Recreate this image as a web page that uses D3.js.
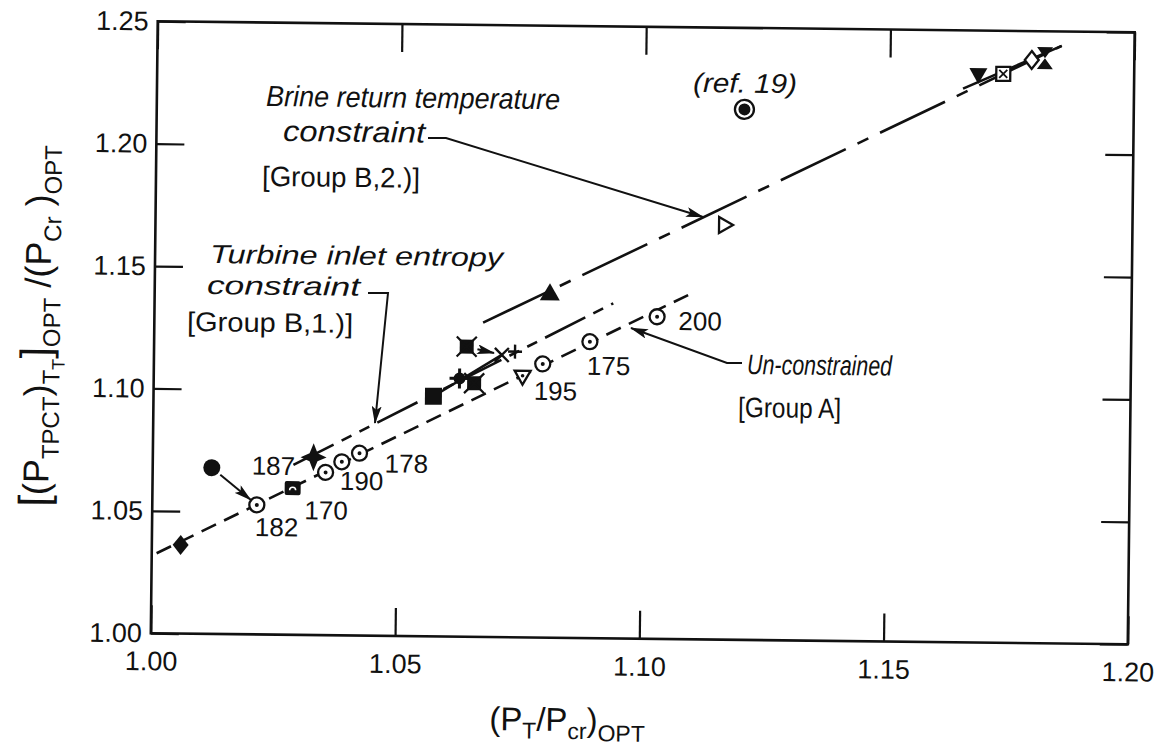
<!DOCTYPE html>
<html><head><meta charset="utf-8">
<script src="https://cdn.jsdelivr.net/npm/d3@7"></script>
<style>
body{margin:0;background:#fff}
svg{display:block}
text{font-family:"Liberation Sans",Arial,sans-serif;fill:#111}
</style>
</head><body>
<svg id="c" width="1163" height="754"></svg>
<script>
// ---------- data ----------
const xTicks = [1.00, 1.05, 1.10, 1.15, 1.20];
const yTicks = [1.00, 1.05, 1.10, 1.15, 1.20, 1.25];
const xTickLabels = ["1.00", "1.05", "1.10", "1.15", "1.20"];
const yTickLabels = ["1.00", "1.05", "1.10", "1.15", "1.20", "1.25"];

const pointX = [1.0059, 1.0121, 1.0214, 1.0287, 1.0354, 1.0387, 1.0423, 1.0329,
                1.0573, 1.0626, 1.0656, 1.0640, 1.0712, 1.0739, 1.0755, 1.0796,
                1.0892, 1.1029, 1.0809, 1.1166, 1.1203, 1.1681, 1.1732, 1.1790, 1.1817];
const pointY = [1.0362, 1.0679, 1.0529, 1.0599, 1.0665, 1.0709, 1.0745, 1.0726,
                1.0981, 1.1055, 1.1036, 1.1185, 1.1153, 1.1167, 1.1065, 1.1118,
                1.1211, 1.1316, 1.1407, 1.1694, 1.2167, 1.2318, 1.2324, 1.2382, 1.2390];
const pointMarker = ["diamondFilled", "circleFilled", "circleDot", "squareFilledArc", "circleDot", "circleDot", "circleDot", "starDiamond",
                     "squareFilled", "starFilled", "xBoxFilled", "xBoxFilled", "xMark", "plus", "triDownOpenDot", "circleDot",
                     "circleDot", "circleDot", "triFilled", "triRightOpen", "doubleCircle", "triDownFilled", "xBoxOpen", "diamondOpen", "hourglass"];

// numeric labels attached to points (index into point arrays)
const labelText  = ["187", "182", "170", "190", "178", "195", "175", "200"];
const labelPoint = [7, 2, 4, 5, 6, 15, 16, 17];

// correlation lines
const lineGroupA   = [[1.001, 1.0327], [1.1092, 1.1406]];   // un-constrained
const lineGroupB1  = [[1.0288, 1.0694], [1.0939, 1.1369]];  // turbine inlet entropy
const lineGroupB2  = [[1.0673, 1.1284], [1.1851, 1.2441]];  // brine return temperature
const solidB1      = [[1.0573, 1.0981], [1.0712, 1.1153]];
const solidB2      = [[1.1650, 1.2262], [1.1851, 1.2441]];
// point-to-point arrows (from index, to index)
const pointArrows  = [[1, 2], [11, 12]];

// ---------- layout ----------
const frame = {l: 154.25, r: 1131.25, t: 26.75, b: 638.75};
const cx = 642.75, cy = 332.75, tilt = 0.645;
const rad = tilt * Math.PI / 180, cs = Math.cos(rad), sn = Math.sin(rad);
function U(px, py) { const dx = px - cx, dy = py - cy; return [cx + dx * cs + dy * sn, cy - dx * sn + dy * cs]; }

const svg = d3.select("#c");
const defs = svg.append("defs");
defs.append("marker").attr("id", "arr").attr("viewBox", "0 0 18 10")
  .attr("refX", 17).attr("refY", 5).attr("markerWidth", 18).attr("markerHeight", 10)
  .attr("markerUnits", "userSpaceOnUse").attr("orient", "auto")
  .append("path").attr("d", "M0,0 L18,5 L0,10 L4,5 Z").attr("fill", "#111");

const g = svg.append("g").attr("transform", `rotate(${tilt},${cx},${cy})`);

const x = d3.scaleLinear().domain([1.0, 1.2]).range([frame.l, frame.r]);
const y = d3.scaleLinear().domain([1.0, 1.25]).range([frame.b, frame.t]);

// axes
const tickLen = 28;
function styleAxis(sel, labels) {
  sel.select(".domain").remove();
  sel.selectAll(".tick line").attr("stroke", "#111").attr("stroke-width", 2.2);
  sel.selectAll(".tick text").attr("font-size", 27).attr("fill", "#111")
     .attr("font-family", "'Liberation Sans',Arial,sans-serif");
  if (!labels) sel.selectAll(".tick text").remove();
}
g.append("g").attr("transform", `translate(0,${frame.b})`)
  .call(d3.axisBottom(x).tickValues(xTicks).tickFormat((d, i) => xTickLabels[i]).tickSizeInner(-tickLen).tickSizeOuter(0).tickPadding(18))
  .call(s => styleAxis(s, true));
g.append("g").attr("transform", `translate(0,${frame.t})`)
  .call(d3.axisTop(x).tickValues(xTicks).tickSizeInner(-tickLen).tickSizeOuter(0))
  .call(s => styleAxis(s, false));
g.append("g").attr("transform", `translate(${frame.l},0)`)
  .call(d3.axisLeft(y).tickValues(yTicks).tickFormat((d, i) => yTickLabels[i]).tickSizeInner(-tickLen).tickSizeOuter(0).tickPadding(9))
  .call(s => styleAxis(s, true));
g.append("g").attr("transform", `translate(${frame.r},0)`)
  .call(d3.axisRight(y).tickValues(yTicks).tickSizeInner(-tickLen).tickSizeOuter(0))
  .call(s => styleAxis(s, false));

g.append("rect").attr("x", frame.l).attr("y", frame.t)
  .attr("width", frame.r - frame.l).attr("height", frame.b - frame.t)
  .attr("fill", "none").attr("stroke", "#111").attr("stroke-width", 2.6);

// lines
const line = d3.line().x(d => x(d[0])).y(d => y(d[1]));
g.append("path").attr("d", line(lineGroupA)).attr("fill", "none").attr("stroke", "#111")
  .attr("stroke-width", 2.6).attr("stroke-dasharray", "16,9");
g.append("path").attr("d", line(lineGroupB1)).attr("fill", "none").attr("stroke", "#111")
  .attr("stroke-width", 2.6).attr("stroke-dasharray", "45,9,11,9,11,9");
g.append("path").attr("d", line(lineGroupB2)).attr("fill", "none").attr("stroke", "#111")
  .attr("stroke-width", 2.6).attr("stroke-dasharray", "72,13,12,13");
g.append("path").attr("d", line(solidB1)).attr("fill", "none").attr("stroke", "#111").attr("stroke-width", 2.6);
g.append("path").attr("d", line(solidB2)).attr("fill", "none").attr("stroke", "#111").attr("stroke-width", 2.6);

// point-to-point arrows
pointArrows.forEach(([a, b]) => {
  const x1 = x(pointX[a]), y1 = y(pointY[a]), x2 = x(pointX[b]), y2 = y(pointY[b]);
  const L = Math.hypot(x2 - x1, y2 - y1), ux = (x2 - x1) / L, uy = (y2 - y1) / L;
  g.append("line").attr("x1", x1 + ux * 11).attr("y1", y1 + uy * 11)
    .attr("x2", x2 - ux * 8).attr("y2", y2 - uy * 8)
    .attr("stroke", "#111").attr("stroke-width", 2).attr("marker-end", "url(#arr)");
});

// markers
const K = "#111";
function drawMarker(sel, type) {
  const sw = 2.3;
  switch (type) {
    case "diamondFilled": sel.append("path").attr("d", "M0,-10 L8,0 L0,10 L-8,0 Z").attr("fill", K); break;
    case "circleFilled": sel.append("circle").attr("r", 8.5).attr("fill", K); break;
    case "circleDot":
      sel.append("circle").attr("r", 7.5).attr("fill", "#fff").attr("stroke", K).attr("stroke-width", sw);
      sel.append("circle").attr("r", 2).attr("fill", K); break;
    case "squareFilledArc":
      sel.append("rect").attr("x", -8).attr("y", -7).attr("width", 16).attr("height", 14).attr("rx", 2).attr("fill", K);
      sel.append("path").attr("d", "M-3,2 A3,3 0 0 1 3,2").attr("fill", "none").attr("stroke", "#fff").attr("stroke-width", 1.6); break;
    case "starDiamond":
      sel.append("path").attr("d", "M0,-14 L4,-4 L13,0 L4,4 L0,14 L-4,4 L-13,0 L-4,-4 Z").attr("fill", K); break;
    case "squareFilled": sel.append("rect").attr("x", -8.5).attr("y", -8.5).attr("width", 17).attr("height", 17).attr("fill", K); break;
    case "starFilled":
      sel.append("circle").attr("r", 6).attr("fill", K);
      sel.append("path").attr("d", "M-10,0 L10,0 M0,-10 L0,10").attr("stroke", K).attr("stroke-width", 3); break;
    case "xBoxFilled":
      sel.append("rect").attr("x", -7).attr("y", -7).attr("width", 14).attr("height", 14).attr("fill", K);
      sel.append("path").attr("d", "M-10,-10 L10,10 M-10,10 L10,-10").attr("stroke", K).attr("stroke-width", 2.2); break;
    case "xMark": sel.append("path").attr("d", "M-7,-7 L7,7 M-7,7 L7,-7").attr("stroke", K).attr("stroke-width", 2.4); break;
    case "plus": sel.append("path").attr("d", "M-7,0 L7,0 M0,-7 L0,7").attr("stroke", K).attr("stroke-width", 2.4); break;
    case "triDownOpenDot":
      sel.append("path").attr("d", "M-8,-6 L8,-6 L0,8 Z").attr("fill", "#fff").attr("stroke", K).attr("stroke-width", sw);
      sel.append("circle").attr("cy", -1).attr("r", 1.8).attr("fill", K); break;
    case "triFilled": sel.append("path").attr("d", "M0,-10 L10,7 L-10,7 Z").attr("fill", K); break;
    case "triRightOpen": sel.append("path").attr("d", "M-6,-8 L8,0 L-6,8 Z").attr("fill", "#fff").attr("stroke", K).attr("stroke-width", sw); break;
    case "doubleCircle":
      sel.append("circle").attr("r", 9.5).attr("fill", "#fff").attr("stroke", K).attr("stroke-width", sw);
      sel.append("circle").attr("r", 6).attr("fill", K); break;
    case "triDownFilled": sel.append("path").attr("d", "M-9,-7 L9,-7 L0,9 Z").attr("fill", K); break;
    case "xBoxOpen":
      sel.append("rect").attr("x", -7).attr("y", -7).attr("width", 14).attr("height", 14).attr("fill", "#fff").attr("stroke", K).attr("stroke-width", sw);
      sel.append("path").attr("d", "M-4,-4 L4,4 M-4,4 L4,-4").attr("stroke", K).attr("stroke-width", 1.8); break;
    case "diamondOpen": sel.append("path").attr("d", "M0,-9 L7,0 L0,9 L-7,0 Z").attr("fill", "#fff").attr("stroke", K).attr("stroke-width", sw); break;
    case "hourglass": sel.append("path").attr("d", "M-8,-11 L8,-11 L0,0 Z M0,0 L8,11 L-8,11 Z").attr("fill", K); break;
  }
}
pointX.forEach((px, i) => {
  const m = g.append("g").attr("transform", `translate(${x(px)},${y(pointY[i])})`);
  drawMarker(m, pointMarker[i]);
});

// point number labels (offsets in px from the point)
const labelOffsets = [[-40, 9], [20, 22], [1, 38], [20, 19], [47, 10], [13, 27], [19, 24], [43, 4]];
labelText.forEach((t, i) => {
  const p = labelPoint[i];
  g.append("text").attr("x", x(pointX[p]) + labelOffsets[i][0]).attr("y", y(pointY[p]) + labelOffsets[i][1] + 9)
    .attr("text-anchor", "middle").attr("font-size", 26).text(t);
});

// annotation texts: [text, left px, baseline px, length, italic, size]
const notes = [
  ["(ref. 19)", 693, 92, 104, true, 27],
  ["Brine return temperature", 266, 106, 294, true, 29],
  ["constraint", 283, 141, 142, true, 29],
  ["[Group B,2.)]", 262, 186, 158, false, 28],
  ["Turbine inlet entropy", 210, 263, 293, true, 26],
  ["constraint", 207, 294, 153, true, 26],
  ["[Group B,1.)]", 187, 331, 166, false, 27],
  ["Un-constrained", 747, 374, 145, true, 28],
  ["[Group A]", 738, 417, 103, false, 28]
];
notes.forEach(n => {
  const [u, v] = U(n[1], n[2]);
  g.append("text").attr("x", u).attr("y", v).attr("font-size", n[5])
    .attr("font-style", n[4] ? "italic" : "normal")
    .attr("textLength", n[3]).attr("lengthAdjust", "spacingAndGlyphs").text(n[0]);
});

// callout arrows (pixel paths)
const callouts = [
  [[428, 138], [446, 138], [703, 217]],
  [[368, 293], [388, 293], [375, 423]],
  [[742, 363], [727, 363], [631, 328]]
];
callouts.forEach(c => {
  g.append("path").attr("d", d3.line()(c.map(p => U(p[0], p[1]))))
    .attr("fill", "none").attr("stroke", "#111").attr("stroke-width", 2).attr("marker-end", "url(#arr)");
});

// axis titles
{
  const [u, v] = U(567, 731);
  const t = g.append("text").attr("x", u).attr("y", v).attr("text-anchor", "middle");
  const parts = [["(P", 33, 0], ["T", 23, 8], ["/P", 33, -8], ["cr", 23, 8], [")", 33, -8], ["OPT", 23, 10]];
  parts.forEach(p => t.append("tspan").attr("font-size", p[1]).attr("dy", p[2]).text(p[0]));
}
{
  const [u, v] = U(50, 326);
  const t = g.append("text").attr("transform", `translate(${u},${v}) rotate(-90)`).attr("text-anchor", "middle");
  const parts = [["[", 42, 0], ["(P", 36, 0], ["TPCT", 24, 10], [")", 36, -10], ["T", 24, 10], ["T", 18, 5],
                 ["]", 42, -15], ["OPT", 24, 10], [" /(P", 36, -10], ["Cr", 24, 10], [" )", 36, -10], ["OPT", 24, 10]];
  parts.forEach(p => t.append("tspan").attr("font-size", p[1]).attr("dy", p[2]).text(p[0]));
}
</script>
</body></html>
